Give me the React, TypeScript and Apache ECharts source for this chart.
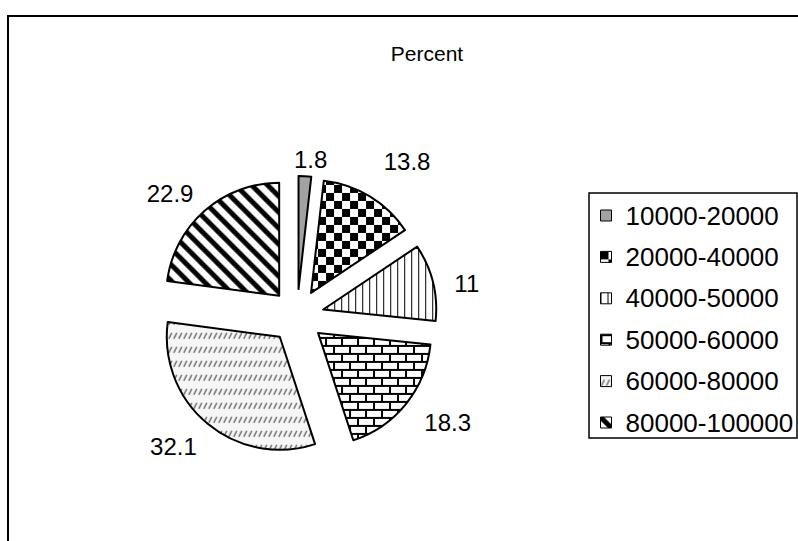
import React, { useEffect, useRef } from 'react';
import * as echarts from 'echarts';

const chartTitle = 'Percent';
const categories = ['10000-20000', '20000-40000', '40000-50000', '50000-60000', '60000-80000', '80000-100000'];
const percentValues = [1.8, 13.8, 11, 18.3, 32.1, 22.9];
const valueLabels = ['1.8', '13.8', '11', '18.3', '32.1', '22.9'];

// label nudges (styling only)
const labelShiftX = [-17, 0, 0, 0, 5, 5];
const labelShiftY = [0, -20, 5, 8, 10, -4];

const FONT = '"Liberation Sans", Arial, Helvetica, sans-serif';

type Draw = (ctx: CanvasRenderingContext2D, w: number, h: number) => void;

function makePattern(w: number, h: number, draw: Draw): any {
  const c = document.createElement('canvas');
  c.width = w;
  c.height = h;
  const ctx = c.getContext('2d') as CanvasRenderingContext2D;
  draw(ctx, w, h);
  return { image: c, repeat: 'repeat', imageWidth: w, imageHeight: h };
}

function buildPatterns(): any[] {
  const dots = makePattern(2, 2, (ctx) => {
    ctx.fillStyle = '#f0f0f0';
    ctx.fillRect(0, 0, 2, 2);
    ctx.fillStyle = '#555';
    ctx.fillRect(0, 0, 1, 1);
    ctx.fillRect(1, 1, 1, 1);
  });
  const checker = makePattern(16, 16, (ctx) => {
    ctx.fillStyle = '#fff';
    ctx.fillRect(0, 0, 16, 16);
    ctx.fillStyle = '#000';
    ctx.fillRect(0, 0, 8, 8);
    ctx.fillRect(8, 8, 8, 8);
  });
  const vlines = makePattern(7, 7, (ctx) => {
    ctx.fillStyle = '#fff';
    ctx.fillRect(0, 0, 7, 7);
    ctx.fillStyle = '#000';
    ctx.fillRect(0, 0, 1, 7);
  });
  const bricks = makePattern(16, 16, (ctx) => {
    ctx.fillStyle = '#fff';
    ctx.fillRect(0, 0, 16, 16);
    ctx.fillStyle = '#000';
    ctx.fillRect(0, 0, 16, 2);
    ctx.fillRect(0, 8, 16, 2);
    ctx.fillRect(0, 0, 2, 8);
    ctx.fillRect(8, 8, 2, 8);
  });
  const dashes = makePattern(5, 14, (ctx) => {
    ctx.fillStyle = '#f6f6f6';
    ctx.fillRect(0, 0, 5, 14);
    ctx.strokeStyle = '#555';
    ctx.lineWidth = 1.2;
    ctx.beginPath();
    ctx.moveTo(1, 10);
    ctx.lineTo(4, 4);
    ctx.stroke();
  });
  const s = 16;
  const stripes = makePattern(s, s, (ctx) => {
    ctx.fillStyle = '#fff';
    ctx.fillRect(0, 0, s, s);
    ctx.strokeStyle = '#000';
    ctx.lineWidth = 5;
    for (let k = -1; k <= 1; k++) {
      ctx.beginPath();
      ctx.moveTo(k * s - s, -s);
      ctx.lineTo(k * s + 2 * s, 2 * s);
      ctx.stroke();
    }
  });
  return [dots, checker, vlines, bricks, dashes, stripes];
}

export default function App() {
  const ref = useRef<HTMLDivElement>(null);

  useEffect(() => {
    if (!ref.current) return;
    document.body.style.margin = '0';
    const chart = echarts.init(ref.current, undefined, { renderer: 'svg' });
    const patterns = buildPatterns();

    const option: any = {
      animation: false,
      backgroundColor: '#fff',
      title: {
        text: chartTitle,
        left: 422,
        top: 38,
        textAlign: 'center',
        textStyle: { fontFamily: FONT, fontSize: 21, fontWeight: 'normal', color: '#000' },
      },
      graphic: [
        {
          type: 'rect',
          shape: { x: 8, y: 16, width: 900, height: 700 },
          style: { fill: 'none', stroke: '#000', lineWidth: 2 },
          silent: true,
        },
        {
          type: 'rect',
          shape: { x: 589, y: 193, width: 208, height: 245 },
          style: { fill: 'none', stroke: '#000', lineWidth: 1.5 },
          silent: true,
        },
      ],
      legend: {
        orient: 'vertical',
        left: 600,
        top: 202.5,
        padding: 0,
        itemWidth: 11,
        itemHeight: 11,
        itemGap: 15.4,
        icon: 'rect',
        selectedMode: false,
        data: categories,
        itemStyle: { borderColor: '#000', borderWidth: 1 },
        textStyle: { fontFamily: FONT, fontSize: 26, color: '#000', lineHeight: 25, padding: [0, 0, 0, 9] },
      },
      series: [
        {
          type: 'pie',
          center: [297, 316],
          radius: 113,
          startAngle: 90,
          clockwise: true,
          selectedMode: 'multiple',
          selectedOffset: 27,
          avoidLabelOverlap: false,
          emphasis: { disabled: true },
          itemStyle: { borderColor: '#000', borderWidth: 2 },
          label: {
            show: true,
            position: 'outside',
            formatter: (p: any) => valueLabels[p.dataIndex],
            fontFamily: FONT,
            fontSize: 24,
            color: '#000',
          },
          labelLine: { show: false, length: 17, length2: 0 },
          labelLayout: (p: any) => ({ dx: labelShiftX[p.dataIndex], dy: labelShiftY[p.dataIndex] }),
          data: categories.map((name, i) => ({
            name,
            value: percentValues[i],
            selected: true,
            itemStyle: { color: patterns[i] },
          })),
        },
      ],
    };
    chart.setOption(option);
    return () => chart.dispose();
  }, []);

  return (
    <div
      ref={ref}
      style={{ position: 'absolute', left: 0, top: 0, width: 798, height: 541, background: '#fff' }}
    />
  );
}
